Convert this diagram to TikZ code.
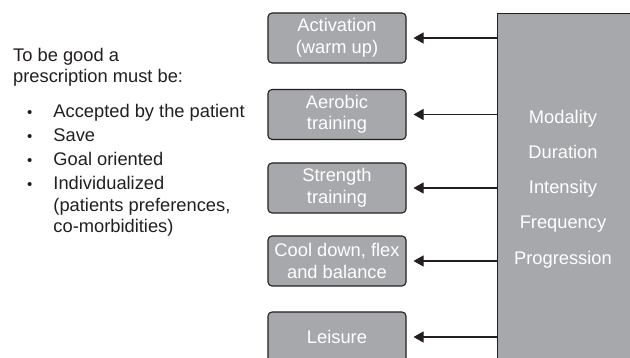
\documentclass[tikz,border=0pt]{standalone}
\usepackage{fontspec}
\setmainfont{Liberation Sans}
\usetikzlibrary{positioning, arrows.meta}

\definecolor{boxgrey}{HTML}{A7A8AB}
\definecolor{inkgrey}{HTML}{231F20}

\begin{document}
\begin{tikzpicture}[x=1pt, y=-1pt,
    every node/.style={font=\fontsize{18.3}{21.5}\selectfont, inner sep=0pt},
    phase/.style={draw=inkgrey, fill=boxgrey, line width=1.1pt, rounded corners=4pt,
        minimum width=138pt, minimum height=50pt, align=center, text=white},
    param/.style={anchor=base, text=white},
    feed/.style={-{Triangle[length=10pt, width=11pt]}, draw=inkgrey, line width=1.1pt, shorten >=7pt}]
                \fill[white] (0,0) rectangle (630,358);
                \useasboundingbox (0,0) rectangle (630,358);

                % left text
                \node[anchor=north west, align=left, text=inkgrey] (intro) at (13,48) {To be good a\\prescription must be:};
                \node[anchor=north west, text=inkgrey] (items) at (27,102) {%
                    \begin{tabular}{@{}l@{\hspace{21pt}}l@{}}
                        {\fontsize{15}{15}\selectfont •} & Accepted by the patient\\[2.7pt]
                        {\fontsize{15}{15}\selectfont •} & Save\\[2.7pt]
                        {\fontsize{15}{15}\selectfont •} & Goal oriented\\[2.7pt]
                        {\fontsize{15}{15}\selectfont •} & Individualized\\
                         & (patients preferences,\\
                         & co-morbidities)
                    \end{tabular}};

                % exercise phases
                \node[phase] (act) at (337,38) {Activation\\(warm up)};
                \node[phase] (aer) at (337,114.5) {Aerobic\\training};
                \node[phase] (str) at (337,188) {Strength\\training};
                \node[phase] (cool) at (337,261) {Cool down, flex\\and balance};
                \node[phase] (leis) at (337,337) {Leisure};

                % prescription parameters
                \node[draw=inkgrey, fill=boxgrey, line width=1.1pt, anchor=north west, minimum width=150pt, minimum height=370pt] (plan) at (497,13) {};
                \node[param] (mod) at (563,124) {Modality};
                \node[param] (dur) at (563,159) {Duration};
                \node[param] (int) at (563,194) {Intensity};
                \node[param] (freq) at (563,228.5) {Frequency};
                \node[param] (prog) at (563,265) {Progression};

                \draw[feed] (plan.west |- act.east) -- (act.east);
                \draw[feed] (plan.west |- aer.east) -- (aer.east);
                \draw[feed] (plan.west |- str.east) -- (str.east);
                \draw[feed] (plan.west |- cool.east) -- (cool.east);
                \draw[feed] (plan.west |- leis.east) -- (leis.east);
            \end{tikzpicture}
\end{document}
